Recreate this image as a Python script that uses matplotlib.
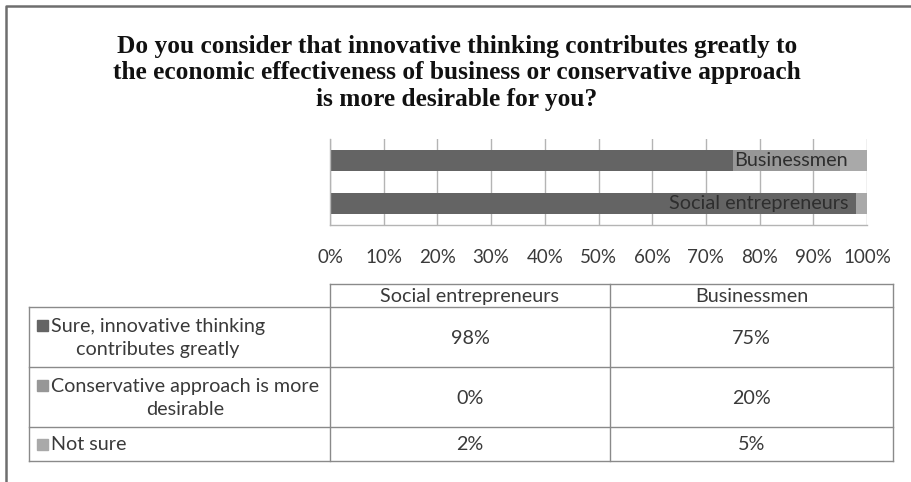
import matplotlib
matplotlib.use("Agg")
import matplotlib.pyplot as plt
from matplotlib.patches import Rectangle
from matplotlib.lines import Line2D

# ---- data ----
groups = ["Social entrepreneurs", "Businessmen"]
series_names = ["Sure, innovative thinking\ncontributes greatly",
                "Conservative approach is more\ndesirable",
                "Not sure"]
sure = [0.98, 0.75]
conservative = [0.00, 0.20]
not_sure = [0.02, 0.05]
series_values = [sure, conservative, not_sure]
series_colors = ["#646464", "#979797", "#a9a9a9"]
tick_values = [i / 10 for i in range(11)]
tick_labels = [f"{int(round(v * 100))}%" for v in tick_values]
title = ("Do you consider that innovative thinking contributes greatly to\n"
         "the economic effectiveness of business or conservative approach\n"
         "is more desirable for you?")

W, H = 911, 482
fig = plt.figure(figsize=(W / 100, H / 100), dpi=100)
fig.patch.set_facecolor("white")

TXT = "#3a3a3a"
GRID = "#b4b4b4"
FONT = "Lato"
TFS = 14.2

# overlay axes in pixel coordinates (for frame, title, table)
ov = fig.add_axes([0, 0, 1, 1])
ov.set_xlim(0, W)
ov.set_ylim(H, 0)
ov.axis("off")

# outer frame (cropped: only left and top edges visible)
ov.add_line(Line2D([6, 6, W + 5], [H + 5, 6, 6], color="#6e6e6e", lw=1.8))

# title
ov.text(457, 73, title, ha="center", va="center", fontsize=18.3,
        fontweight="bold", family="Liberation Serif", color="#111111",
        linespacing=1.22)

# ---- bar chart ----
x0, x1 = 330, 867
y_top, y_bot = 139, 225
ax = fig.add_axes([x0 / W, 1 - y_bot / H, (x1 - x0) / W, (y_bot - y_top) / H])
ax.set_xlim(0, 1)
ax.set_ylim(-0.5, 1.5)
ypos = list(range(len(groups)))
left = [0.0] * len(groups)
for vals, col in zip(series_values, series_colors):
    ax.barh(ypos, vals, left=left, height=0.49, color=col, zorder=2)
    left = [l + v for l, v in zip(left, vals)]
for y, g in zip(ypos, groups):
    ax.text(0.965, y, g, ha="right", va="center", fontsize=14.3, family=FONT,
            color="#2e2e2e", zorder=3)
ax.set_xticks(tick_values)
ax.set_xticklabels(tick_labels, fontsize=13.5, family=FONT, color=TXT)
ax.tick_params(axis="x", length=0, pad=17)
ax.set_yticks([])
ax.grid(axis="x", color=GRID, lw=1, zorder=1)
for s in ["top", "right"]:
    ax.spines[s].set_visible(False)
for s in ["left", "bottom"]:
    ax.spines[s].set_color(GRID)
    ax.spines[s].set_linewidth(1)

# ---- data table ----
tx = [29, 330, 610, 893]
ty = [284, 307, 367, 427, 461]
LC = "#8a8a8a"
lw = 1
ov.add_line(Line2D([tx[1], tx[3]], [ty[0], ty[0]], color=LC, lw=lw))
for x in tx[1:]:
    ov.add_line(Line2D([x, x], [ty[0], ty[-1]], color=LC, lw=lw))
ov.add_line(Line2D([tx[0], tx[0]], [ty[1], ty[-1]], color=LC, lw=lw))
for y in ty[1:]:
    ov.add_line(Line2D([tx[0], tx[3]], [y, y], color=LC, lw=lw))

# column headers
for i, g in enumerate(groups):
    ov.text((tx[i + 1] + tx[i + 2]) / 2, (ty[0] + ty[1]) / 2 + 1, g,
            ha="center", va="center", fontsize=TFS, family=FONT, color=TXT)

# rows
for r, (name, vals, col) in enumerate(zip(series_names, series_values, series_colors)):
    yc = (ty[r + 1] + ty[r + 2]) / 2
    nlines = name.count("\n") + 1
    first_line_y = yc - (nlines - 1) * 12.5
    ov.add_patch(Rectangle((37, first_line_y - 5), 11, 11, color=col))
    ov.text(51, yc + 1, name, ha="left", va="center", fontsize=TFS,
            family=FONT, color=TXT, multialignment="center", linespacing=1.4)
    for i, v in enumerate(vals):
        ov.text((tx[i + 1] + tx[i + 2]) / 2, yc + 1, f"{int(round(v * 100))}%",
                ha="center", va="center", fontsize=TFS, family=FONT, color=TXT)

fig.savefig("out.png", dpi=100, facecolor="white")
